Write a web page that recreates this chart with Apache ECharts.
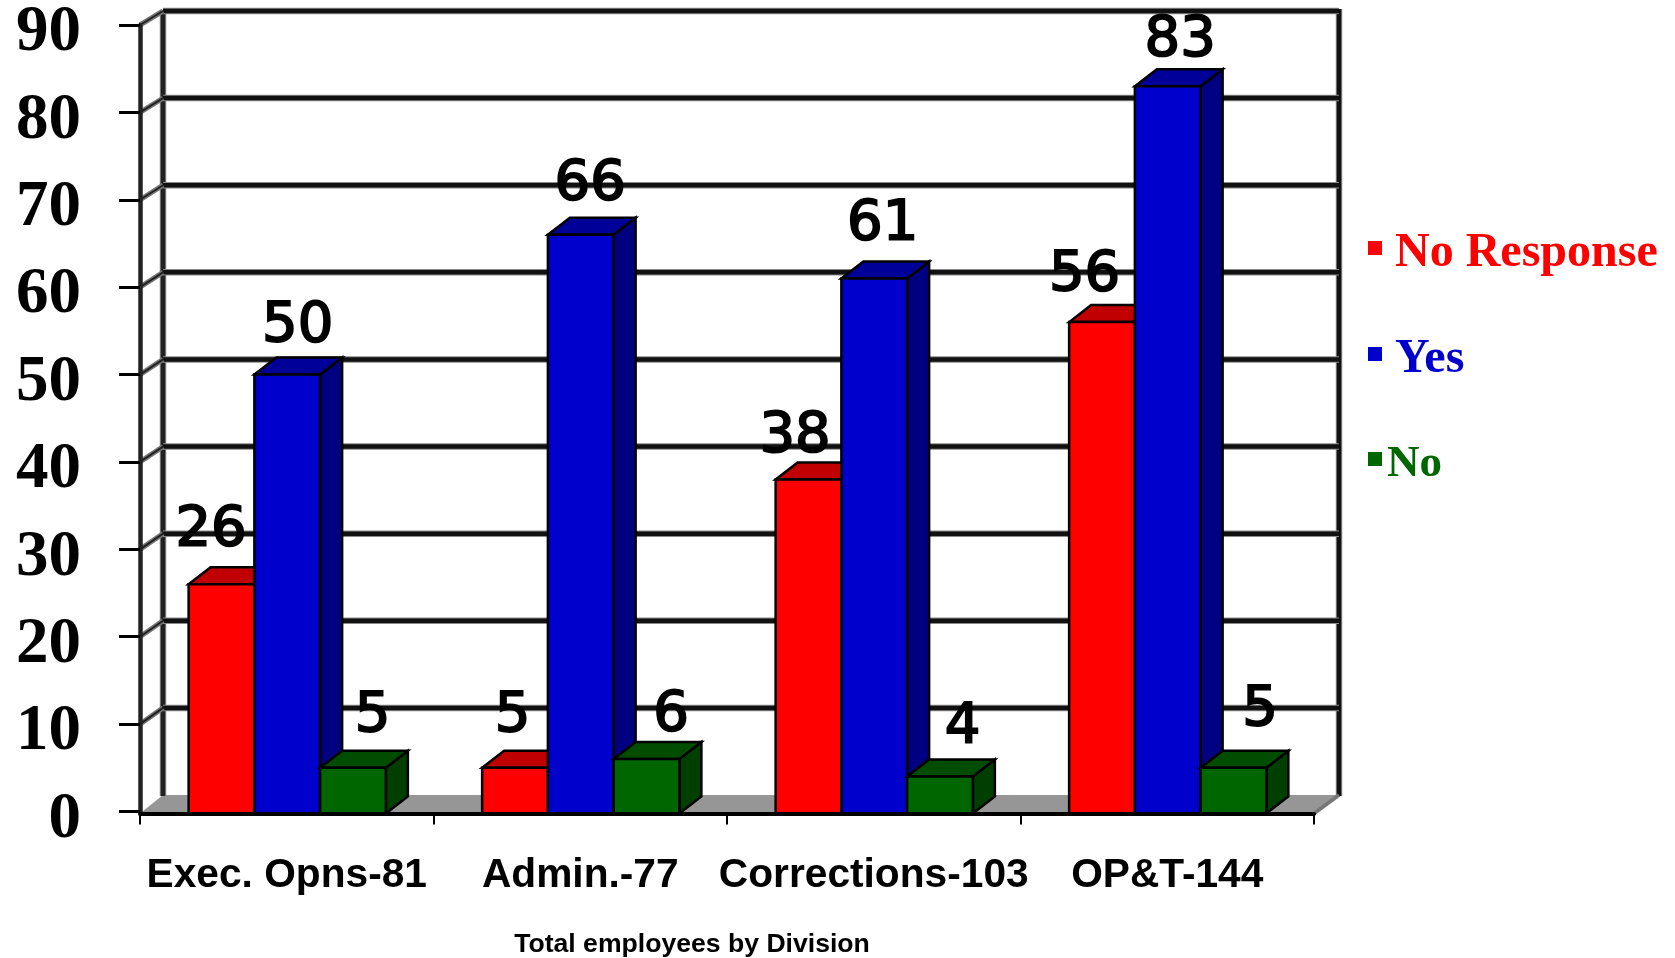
<!DOCTYPE html>
<html><head><meta charset="utf-8">
<style>html,body{margin:0;padding:0;background:#fff}#c{width:1675px;height:958px}</style>
<script src="https://cdn.jsdelivr.net/npm/echarts@6/dist/echarts.min.js"></script>
</head><body><div id="c"></div>
<script>
const categories = ['Exec. Opns-81', 'Admin.-77', 'Corrections-103', 'OP&T-144'];
const noResponse = [26, 5, 38, 56];
const yes = [50, 66, 61, 83];
const no = [5, 6, 4, 5];
const yTicks = [0, 10, 20, 30, 40, 50, 60, 70, 80, 90];
const axisTitle = 'Total employees by Division';

// layout only: hand-placed label offsets [dx, dy] from bar top centre
const nudgeRed = [[-10, -54], [-2, -51], [-13, -43], [-17, -47]];
const nudgeBlue = [[11, -48.5], [10, -50], [9, -54], [13, -46]];
const nudgeGreen = [[20, -51], [25, -44], [23, -49], [27, -57]];

const DXL = 23, DXR = 25, DX = 22, DY = 17, BAR = 0.224, BASE_DROP = 2;

function wall(params, api) {
  const v = api.value(1);
  const cs = params.coordSys;
  const f = api.coord([0, v])[1];
  const x0 = cs.x, x1 = cs.x + cs.width;
  const b = f - 16.5 + 2.5 * v / 90;
  const kids = [];
  const line = (x1_, y1_, x2_, y2_, stroke, w) => ({type: 'line', shape: {x1: x1_, y1: y1_, x2: x2_, y2: y2_}, style: {stroke, lineWidth: w, lineCap: 'butt'}});
  if (v === 0) {
    const fb = f + BASE_DROP;
    kids.push({type: 'polygon', shape: {points: [[x0, fb], [x0 + DXL, b], [x1 + DXR, b], [x1, fb]]}, style: {fill: '#969696'}});
    const top = api.coord([0, 90])[1] - 14;
    kids.push(line(x0 + DXL, top, x0 + DXL, b + 1, '#8a8a8a', 6.5));
    kids.push(line(x0 + DXL, top, x0 + DXL, b + 1, '#222', 4.5));
    kids.push(line(x1 + DXR, top - 2, x1 + DXR, b + 1, '#8a8a8a', 6.5));
    kids.push(line(x1 + DXR, top - 2, x1 + DXR, b + 1, '#111', 4.5));
    kids.push(line(x1, fb, x1 + DXR, b, '#777', 4));
  } else {
    kids.push(line(x0 + DXL, b, x1 + DXR, b, '#8a8a8a', 6.5));
    kids.push(line(x0 + DXL, b, x1 + DXR, b, '#111', 4.5));
    kids.push(line(x0, f, x0 + DXL, b, '#777', 5));
    kids.push(line(x0, f, x0 + DXL, b, '#222', 2));
  }
  return {type: 'group', children: kids};
}

function barRenderer(slot, nudges, front, side, top) {
  return function (params, api) {
    const i = api.value(0), v = api.value(1);
    const p = api.coord([i, v]), base = api.coord([i, 0]);
    const band = api.size([1, 0])[0];
    const w = band * BAR;
    const x = p[0] + 0.5 + (slot - 1.5) * w;
    const y = p[1], yb = base[1] + BASE_DROP;
    const stroke = {stroke: '#000', lineWidth: 2.5, lineJoin: 'miter'};
    const n = nudges[i];
    return {type: 'group', children: [
      {type: 'polygon', shape: {points: [[x + w, y], [x + w + DX, y - DY], [x + w + DX, yb - DY], [x + w, yb]]}, style: Object.assign({fill: side}, stroke)},
      {type: 'polygon', shape: {points: [[x, y], [x + DX, y - DY], [x + w + DX, y - DY], [x + w, y]]}, style: Object.assign({fill: top}, stroke)},
      {type: 'rect', shape: {x, y, width: w, height: yb - y}, style: Object.assign({fill: front}, stroke)},
      {type: 'text', z2: 100, style: {text: String(v), x: x + w / 2 + n[0] - 0.5, y: y + n[1], align: 'center', verticalAlign: 'middle', fill: '#000', stroke: '#000', lineWidth: 2, font: '56px "DejaVu Sans"'}}
    ]};
  };
}
const toData = arr => arr.map((v, i) => [i, v]);
const legendAt = (name, color, top, pad, size) => ({
  data: [name], left: 1368, top, padding: 0, orient: 'vertical', icon: 'rect', itemWidth: 14, itemHeight: 14,
  selectedMode: false,
  formatter: '{t|{name}}',
  textStyle: {color, rich: {t: {color, fontFamily: '"Liberation Serif"', fontWeight: 'bold', fontSize: size, padding: [11, 0, 0, pad]}}}
});

const chart = echarts.init(document.getElementById('c'));
chart.setOption({
  animation: false,
  backgroundColor: '#fff',
  grid: {left: 140, width: 1174, top: 25, height: 786.5, containLabel: false, outerBoundsMode: 'none'},
  title: {text: axisTitle, left: 687, top: 926, textAlign: 'center', textStyle: {fontFamily: '"Liberation Sans"', fontWeight: 'bold', fontSize: 26.6, color: '#000'}},
  legend: [
    legendAt('No Response', '#ff0000', 229.5, 8, 48),
    legendAt('Yes', '#0000cc', 335.5, 8, 48),
    legendAt('No', '#006600', 442, 0, 45)
  ],
  xAxis: {
    type: 'category', data: categories, z: 5, offset: BASE_DROP,
    axisLine: {show: true, onZero: false, lineStyle: {color: '#000', width: 4}},
    axisTick: {show: true, alignWithLabel: false, length: 11, lineStyle: {color: '#000', width: 2}},
    axisLabel: {interval: 0, margin: 42, color: '#000', fontFamily: '"Liberation Sans"', fontWeight: 'bold', fontSize: 40.7}
  },
  yAxis: {
    type: 'value', min: 0, max: 90, interval: 10, z: 5,
    splitLine: {show: false},
    axisLine: {show: true, lineStyle: {color: '#222', width: 4.5}},
    axisTick: {show: true, length: 21, lineStyle: {color: '#000', width: 3}},
    axisLabel: {margin: 59, color: '#000', formatter: '{t|{value}}', customValues: yTicks,
      rich: {t: {color: '#000', fontFamily: '"Liberation Serif"', fontWeight: 'bold', fontSize: 65, padding: [17, 0, 0, 0]}}}
  },
  series: [
    {type: 'custom', name: 'wall', silent: true, data: yTicks.map(v => [0, v]), encode: {x: 0, y: 1}, renderItem: wall, z: 1, clip: false},
    {type: 'custom', name: 'No Response', data: toData(noResponse), encode: {x: 0, y: 1}, itemStyle: {color: '#ff0000'}, renderItem: barRenderer(0, nudgeRed, '#ff0000', '#a00000', '#c00000'), z: 2},
    {type: 'custom', name: 'Yes', data: toData(yes), encode: {x: 0, y: 1}, itemStyle: {color: '#0000cc'}, renderItem: barRenderer(1, nudgeBlue, '#0000cc', '#000080', '#000099'), z: 3},
    {type: 'custom', name: 'No', data: toData(no), encode: {x: 0, y: 1}, itemStyle: {color: '#006600'}, renderItem: barRenderer(2, nudgeGreen, '#006600', '#003f00', '#004c00'), z: 4}
  ]
});
</script></body></html>
